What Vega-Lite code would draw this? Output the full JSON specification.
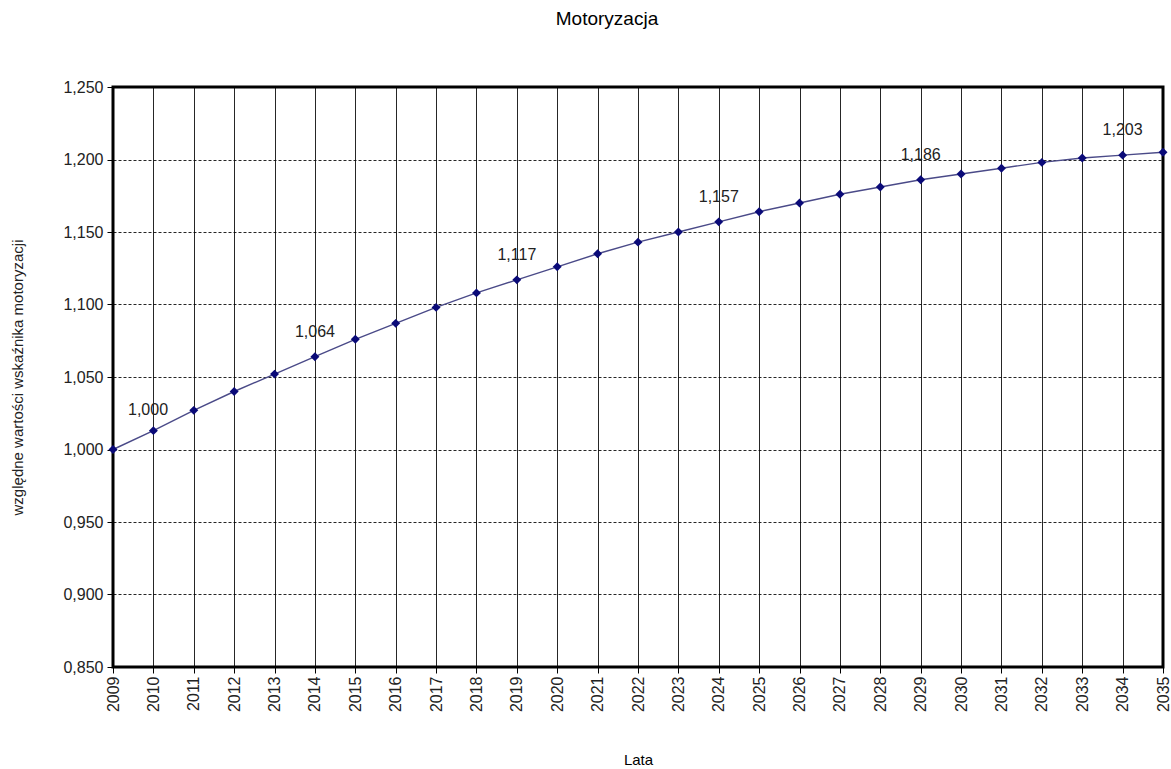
{
  "$schema": "https://vega.github.io/schema/vega-lite/v6.json",
  "autosize": "none",
  "width": 1050,
  "height": 580,
  "padding": {"left": 113, "top": 87, "right": 8, "bottom": 102},
  "background": "white",
  "title": {
    "text": "Motoryzacja",
    "anchor": "middle",
    "frame": "group",
    "dx": -31,
    "offset": 50,
    "font": "Liberation Sans",
    "fontSize": 19,
    "fontWeight": "normal",
    "color": "black"
  },
  "config": {
    "locale": {"number": {"decimal": ",", "thousands": " ", "grouping": [3], "currency": ["", " zł"]}},
    "view": {"stroke": "black", "strokeWidth": 3},
    "font": "Liberation Sans"
  },
  "data": {
    "values": [
      {"rok": 2009, "v": 1.000},
      {"rok": 2010, "v": 1.013},
      {"rok": 2011, "v": 1.027},
      {"rok": 2012, "v": 1.040},
      {"rok": 2013, "v": 1.052},
      {"rok": 2014, "v": 1.064},
      {"rok": 2015, "v": 1.076},
      {"rok": 2016, "v": 1.087},
      {"rok": 2017, "v": 1.098},
      {"rok": 2018, "v": 1.108},
      {"rok": 2019, "v": 1.117},
      {"rok": 2020, "v": 1.126},
      {"rok": 2021, "v": 1.135},
      {"rok": 2022, "v": 1.143},
      {"rok": 2023, "v": 1.150},
      {"rok": 2024, "v": 1.157},
      {"rok": 2025, "v": 1.164},
      {"rok": 2026, "v": 1.170},
      {"rok": 2027, "v": 1.176},
      {"rok": 2028, "v": 1.181},
      {"rok": 2029, "v": 1.186},
      {"rok": 2030, "v": 1.190},
      {"rok": 2031, "v": 1.194},
      {"rok": 2032, "v": 1.198},
      {"rok": 2033, "v": 1.201},
      {"rok": 2034, "v": 1.203},
      {"rok": 2035, "v": 1.205}
    ]
  },
  "encoding": {
    "x": {
      "field": "rok",
      "type": "ordinal",
      "scale": {"type": "point", "padding": 0},
      "axis": {
        "title": "Lata",
        "titleFont": "Liberation Sans",
        "titleFontSize": 15,
        "titleFontWeight": "normal",
        "titleColor": "black",
        "titleY": 85,
        "titleBaseline": "top",
        "labelAngle": -90,
        "labelAlign": "right",
        "labelBaseline": "middle",
        "labelFontSize": 16,
        "labelColor": "#222",
        "labelPadding": 3,
        "tickColor": "black",
        "tickSize": 6,
        "domain": false,
        "grid": true,
        "gridColor": "black",
        "gridWidth": 1,
        "gridOpacity": 0.85
      }
    },
    "y": {
      "field": "v",
      "type": "quantitative",
      "scale": {"domain": [0.85, 1.25], "nice": false, "zero": false},
      "axis": {
        "title": "względne wartości wskaźnika motoryzacji",
        "titleFont": "Liberation Sans",
        "titleFontSize": 15,
        "titleFontWeight": "normal",
        "titleColor": "#222",
        "titleX": -88,
        "titleBaseline": "bottom",
        "values": [0.85, 0.9, 0.95, 1.0, 1.05, 1.1, 1.15, 1.2, 1.25],
        "format": ".3f",
        "labelFontSize": 16,
        "labelColor": "#222",
        "labelPadding": 4,
        "tickColor": "black",
        "tickSize": 6,
        "domain": false,
        "grid": true,
        "gridColor": "black",
        "gridDash": [3, 2],
        "gridWidth": 1,
        "gridOpacity": 0.85
      }
    }
  },
  "layer": [
    {
      "mark": {"type": "line", "color": "#4a4a88", "strokeWidth": 1.4}
    },
    {
      "mark": {"type": "point", "shape": "diamond", "filled": true, "color": "#0a0a78", "size": 80, "opacity": 1}
    },
    {
      "transform": [{"filter": "datum.rok % 5 == 4 && datum.rok > 2009"}],
      "mark": {"type": "text", "dy": -25, "fontSize": 16, "color": "#222", "font": "Liberation Sans"},
      "encoding": {"text": {"field": "v", "type": "quantitative", "format": ".3f"}}
    },
    {
      "transform": [{"filter": "datum.rok == 2009"}],
      "mark": {"type": "text", "dx": 35, "dy": -40, "fontSize": 16, "color": "#222", "font": "Liberation Sans"},
      "encoding": {"text": {"field": "v", "type": "quantitative", "format": ".3f"}}
    }
  ]
}
